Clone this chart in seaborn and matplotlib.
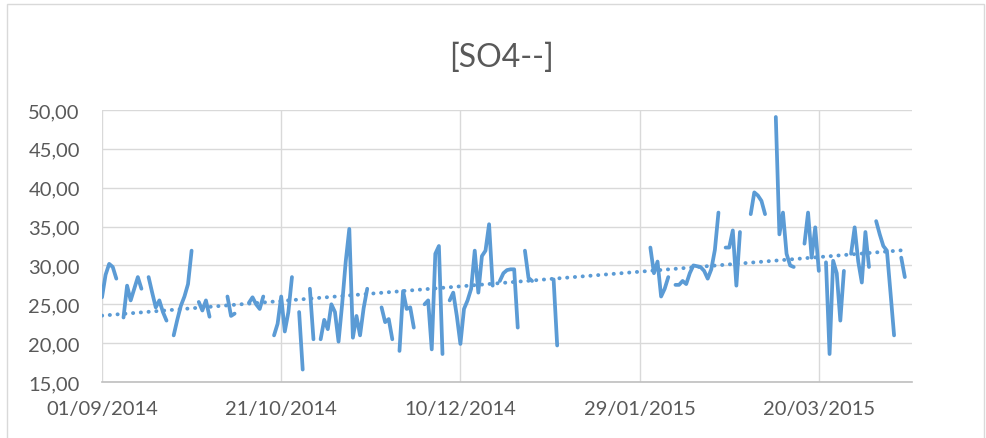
import numpy as np
import pandas as pd
import matplotlib
matplotlib.use('Agg')
import matplotlib.pyplot as plt
import matplotlib.dates as mdates
from matplotlib.patches import Rectangle
import seaborn as sns

sns.set_style('white')
plt.rcParams['font.family'] = ['Lato', 'DejaVu Sans']

nan = np.nan

# 일별 측정값 (01/09/2014 부터), nan = 측정 없음
so4 = [
    25.9, 28.8, 30.2, 29.8, 28.3, nan, 23.3, 27.4, 25.5, 27.0,
    28.5, 27.0, nan, 28.5, 26.5, 24.6, 25.5, 24.0, 22.9, nan,
    21.0, 23.0, 24.8, 26.0, 27.6, 31.9, nan, 25.3, 24.2, 25.5,
    23.4, nan, nan, nan, nan, 26.0, 23.5, 23.8, nan, nan,
    nan, 25.2, 25.9, 25.0, 24.4, 26.0, nan, nan, 21.0, 22.5,
    26.0, 21.5, 24.0, 28.5, nan, 24.0, 16.6, nan, 27.0, 20.5,
    nan, 20.5, 23.0, 21.8, 25.0, 24.0, 20.2, 25.0, 30.5, 34.7,
    20.7, 23.5, 21.0, 24.5, 27.0, nan, nan, nan, 24.6, 22.7,
    23.1, 20.5, nan, 19.0, 26.7, 24.4, 24.6, 22.0, nan, nan,
    25.0, 25.5, 19.2, 31.5, 32.5, 18.6, nan, 25.5, 26.5, 23.5,
    19.9, 24.4, 25.5, 27.0, 31.9, 26.5, 31.2, 31.9, 35.3, 27.4,
    nan, 28.0, 29.0, 29.4, 29.5, 29.5, 22.0, nan, 31.9, 28.4,
    28.0, nan, nan, nan, nan, nan, 28.2, 19.7, nan, nan,
    nan, nan, nan, nan, nan, nan, nan, nan, nan, nan,
    nan, nan, nan, nan, nan, nan, nan, nan, nan, nan,
    nan, nan, nan, 32.3, 29.0, 30.5, 26.0, 27.0, 28.5, nan,
    27.5, 27.5, 28.0, 27.6, 29.0, 30.0, 29.9, 29.8, 29.3, 28.3,
    29.5, 32.0, 36.8, nan, 32.3, 32.3, 34.5, 27.4, 34.3, nan,
    nan, 36.6, 39.4, 39.0, 38.3, 36.6, nan, nan, 49.1, 34.0,
    36.8, 31.5, 30.0, 29.8, nan, nan, 32.8, 36.8, 31.0, 34.9,
    29.3, nan, 30.4, 18.6, 30.6, 29.0, 22.9, 29.3, nan, 31.5,
    34.9, 30.5, 27.8, 34.3, 29.8, nan, 35.7, 34.0, 32.5, 31.9,
    26.5, 21.0, nan, 31.0, 28.5,
]
start_date = '2014-09-01'
tick_dates = ['2014-09-01', '2014-10-21', '2014-12-10', '2015-01-29', '2015-03-20']
y_ticks = [15, 20, 25, 30, 35, 40, 45, 50]
title = '[SO4--]'

blue = '#5B9BD5'
grey_txt = '#595959'

df = pd.DataFrame({'날짜': pd.date_range(start_date, periods=len(so4), freq='D'),
                   '값': so4})
# 빈 값에서 선을 끊기 위해 구간 번호 부여
df['구간'] = df['값'].isna().cumsum()
df_ok = df.dropna()

fig = plt.figure(figsize=(9.87, 4.39), dpi=100)
ax = fig.add_axes([102 / 987, 1 - 383 / 439, 810 / 987, 272 / 439])

sns.lineplot(data=df_ok, x='날짜', y='값', units='구간', estimator=None,
             color=blue, linewidth=2.7, ax=ax)

# 선형 추세선
day_num = (df_ok['날짜'] - df_ok['날짜'].iloc[0]).dt.days.values
coef = np.polyfit(day_num, df_ok['값'].values, 1)
trend = pd.DataFrame({'날짜': [df_ok['날짜'].iloc[0], df_ok['날짜'].iloc[-1]],
                      '값': np.polyval(coef, [day_num[0], day_num[-1]])})
sns.lineplot(data=trend, x='날짜', y='값', color=blue, linewidth=2.8,
             linestyle=(0, (0.05, 1.95)), dash_capstyle='round', ax=ax)

ax.set_xlim(pd.Timestamp(start_date), pd.Timestamp('2015-04-15'))
ax.set_ylim(15, 50)
ax.set_xticks([pd.Timestamp(d) for d in tick_dates])
ax.xaxis.set_major_formatter(mdates.DateFormatter('%d/%m/%Y'))
ax.set_yticks(y_ticks)
ax.set_yticklabels([f'{v:.2f}'.replace('.', ',') for v in y_ticks])
ax.grid(True, color='#d9d9d9', linewidth=1.0)
ax.set_axisbelow(True)
for s in ['top', 'right', 'left']:
    ax.spines[s].set_visible(False)
ax.spines['bottom'].set_color('#bfbfbf')
ax.spines['bottom'].set_linewidth(1.2)
ax.tick_params(axis='both', length=0, labelsize=14.5, colors=grey_txt)
ax.tick_params(axis='y', pad=16)
ax.tick_params(axis='x', pad=13)
ax.set_xlabel('')
ax.set_ylabel('')

fig.text(502 / 987, 1 - 58 / 439, title, ha='center', va='center',
         fontsize=23, color=grey_txt)

# 차트 영역 테두리
fig.patches.append(Rectangle((7 / 987, -0.05), 977 / 987, 1.05 - 5 / 439,
                             transform=fig.transFigure, fill=False,
                             edgecolor='#d9d9d9', linewidth=1.0))

fig.savefig('out.png', dpi=100)
